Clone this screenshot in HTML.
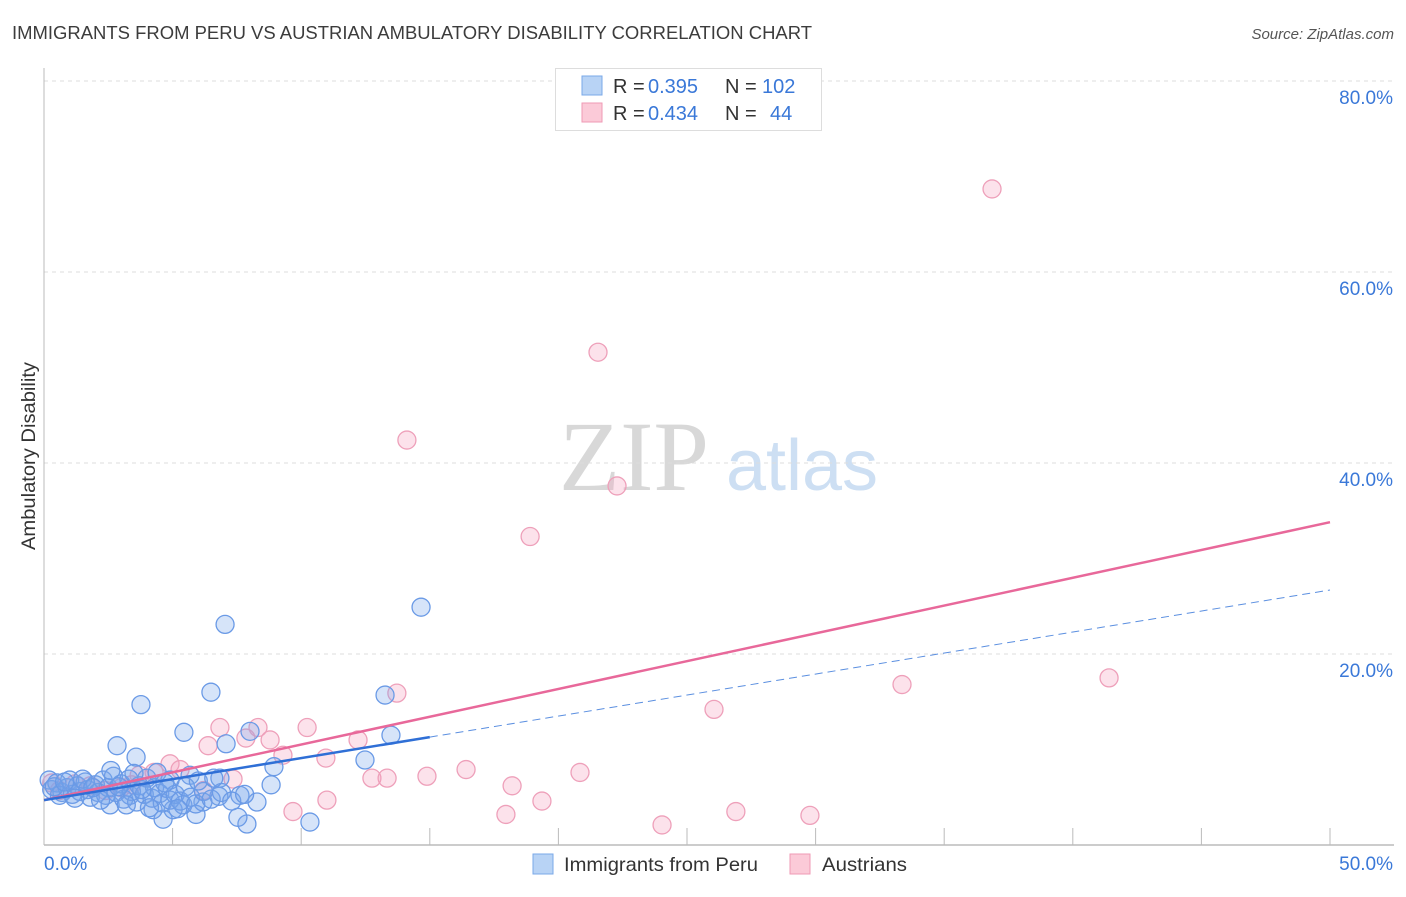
<!DOCTYPE html>
<html><head><meta charset="utf-8"><style>
body{margin:0;background:#fff;font-family:"Liberation Sans",sans-serif;}
</style></head><body>
<svg id="chart" width="1406" height="892" xmlns="http://www.w3.org/2000/svg" font-family="Liberation Sans, sans-serif">
<text x="12" y="39" font-size="18" fill="#3c3c3c" textLength="800" lengthAdjust="spacingAndGlyphs">IMMIGRANTS FROM PERU VS AUSTRIAN AMBULATORY DISABILITY CORRELATION CHART</text>
<text x="1394" y="39" font-size="15" fill="#555" font-style="italic" text-anchor="end">Source: ZipAtlas.com</text>
<text transform="translate(35,456) rotate(-90)" font-size="19" fill="#333" text-anchor="middle" textLength="188" lengthAdjust="spacingAndGlyphs">Ambulatory Disability</text>
<g>
<text x="634" y="490" font-size="100" fill="#d8d8d8" style="font-family:'Liberation Serif',serif" text-anchor="middle">ZIP</text>
<text x="802" y="490" font-size="72" fill="#cddff3" text-anchor="middle">atlas</text>
</g>
<g id="grid"></g><g id="axes"></g><g id="pts"></g><g id="lines"></g>
<g>
<rect x="555.5" y="68.5" width="266" height="62" fill="#fff" stroke="#ddd"/>
<rect x="582" y="76" width="20" height="19" fill="#b8d3f5" stroke="#7aa8e8"/>
<rect x="582" y="103" width="20" height="19" fill="#fbcad8" stroke="#ef9ab5"/>
<text x="613" y="93" font-size="20" fill="#333">R = </text><text x="648" y="93" font-size="20" fill="#3a78d8">0.395</text>
<text x="725" y="93" font-size="20" fill="#333">N = </text><text x="762" y="93" font-size="20" fill="#3a78d8">102</text>
<text x="613" y="120" font-size="20" fill="#333">R = </text><text x="648" y="120" font-size="20" fill="#3a78d8">0.434</text>
<text x="725" y="120" font-size="20" fill="#333">N = </text><text x="770" y="120" font-size="20" fill="#3a78d8">44</text>
</g>
<g>
<rect x="533" y="854" width="20" height="20" fill="#b8d3f5" stroke="#7aa8e8"/>
<text x="564" y="871" font-size="19.5" fill="#333" textLength="194" lengthAdjust="spacingAndGlyphs">Immigrants from Peru</text>
<rect x="790" y="854" width="20" height="20" fill="#fbcad8" stroke="#ef9ab5"/>
<text x="822" y="871" font-size="19.5" fill="#333" textLength="85" lengthAdjust="spacingAndGlyphs">Austrians</text>
</g>
</svg>
<script>
const xTicks=[0,5,10,15,20,25,30,35,40,45,50];
const yGrid=[20,40,60,80];
const yTickLabels=["20.0%","40.0%","60.0%","80.0%"];
const peruX=[7.04,14.66,6.49,3.77,13.26,5.44,13.49,2.84,7.08,8.01,3.58,12.48,8.94,10.34,7.89,4.63,7.54,5.91,8.83,8.28,6.80,6.18,5.02,5.40,4.24,2.57,3.34,4.90,5.68,6.84,7.62,
0.2,0.3,0.5,0.7,0.9,1.0,1.1,1.3,1.4,1.6,1.7,1.8,2.0,2.1,2.3,2.4,2.5,2.7,2.8,3.0,3.1,3.3,3.4,3.6,3.7,3.9,4.0,4.2,4.3,4.5,4.6,4.8,4.9,5.1,5.3,5.5,5.7,5.9,6.2,6.5,6.9,7.3,2.6,3.5,4.4,1.5,0.6,1.2,2.2,3.2,4.1,5.2,0.4,0.8,1.9,2.9,3.8,4.7,6.0,6.6,7.8];
const peruY=[23.1,24.9,16.0,14.7,15.7,11.8,11.5,10.4,10.6,11.9,9.2,8.9,8.2,2.4,2.2,2.7,2.9,3.2,6.3,4.5,5.1,4.5,3.7,4.2,3.7,4.2,5.2,6.8,7.3,7.0,5.2,
6.8,5.8,6.5,5.5,6.0,6.8,5.3,6.2,5.6,6.6,5.8,5.0,6.3,5.5,6.8,5.2,6.0,7.2,5.5,6.4,4.8,6.9,5.6,4.5,6.2,5.3,7.0,4.9,6.0,5.4,4.4,5.9,4.7,5.3,4.6,6.1,5.0,4.3,5.6,4.8,5.5,4.6,7.8,7.5,7.6,6.9,5.2,4.9,4.7,4.2,3.9,3.8,6.1,6.6,6.0,6.1,5.8,6.5,6.7,7.0,5.3];
const ausX=[36.86,21.54,14.11,22.28,18.90,13.72,33.36,41.41,26.05,6.84,8.32,10.23,6.38,8.79,7.85,12.21,9.29,10.96,4.90,5.29,4.28,7.35,12.75,13.34,14.89,16.41,20.84,18.20,19.36,11.00,9.68,17.96,26.90,29.78,24.03,0.3,1.8,3.0,3.7,6.2,0.6,2.4,3.4,1.2];
const ausY=[68.7,51.6,42.4,37.6,32.3,15.9,16.8,17.5,14.2,12.3,12.3,12.3,10.4,11.0,11.2,11.0,9.4,9.1,8.5,7.9,7.6,6.9,7.0,7.0,7.2,7.9,7.6,6.2,4.6,4.7,3.5,3.2,3.5,3.1,2.1,6.5,6.2,6.0,7.3,5.7,5.7,5.7,6.3,6.4];
const peruFit=[4.7,0.44];
const peruFitSolidEnd=15;
const ausFit=[4.7,0.582];
const NS="http://www.w3.org/2000/svg";
const X0=44,X1=1330,Y0=845,PPY=9.55;
const sx=v=>X0+(v/50)*(X1-X0);
const sy=v=>Y0-v*PPY;
function mk(tag,attrs,parent){const e=document.createElementNS(NS,tag);for(const k in attrs)e.setAttribute(k,attrs[k]);parent.appendChild(e);return e;}
const grid=document.getElementById('grid'),axes=document.getElementById('axes'),pts=document.getElementById('pts'),lines=document.getElementById('lines');
yGrid.forEach((v,i)=>{
 const l=mk('line',{x1:X0,x2:1394,y1:sy(v),y2:sy(v),stroke:'#ddd','stroke-dasharray':'4,4'},grid);
 
 
 const t=mk('text',{x:1393,y:sy(v)+23,'font-size':19,fill:'#3a78d8','text-anchor':'end'},grid);
 t.textContent=yTickLabels[i];
 
 
});
const ax=mk('line',{x1:X0,x2:X0,y1:68,y2:Y0,stroke:'#bbb'},axes);


const bx=mk('line',{x1:X0,x2:1394,y1:Y0,y2:Y0,stroke:'#bbb','stroke-width':1.5},axes);


xTicks.forEach(v=>{const t=mk('line',{x1:sx(v),x2:sx(v),y1:828,y2:Y0,stroke:'#bbb'},axes);
 
 });
const xl0=mk('text',{x:44,y:870,'font-size':19,fill:'#3a78d8'},axes);xl0.textContent=xTicks[0].toFixed(1)+'%';


const xl1=mk('text',{x:1393,y:870,'font-size':19,fill:'#3a78d8','text-anchor':'end'},axes);xl1.textContent=xTicks[xTicks.length-1].toFixed(1)+'%';


ausX.forEach((x,i)=>{const c=mk('circle',{cx:sx(x),cy:sy(ausY[i]),r:9,fill:'rgba(245,160,190,0.3)',stroke:'#eea0ba','stroke-width':1.3},pts);
 
 });
peruX.forEach((x,i)=>{const c=mk('circle',{cx:sx(x),cy:sy(peruY[i]),r:9,fill:'rgba(120,165,235,0.3)',stroke:'#6a9ae6','stroke-width':1.3},pts);
 
 });
const f=(p,x)=>p[0]+p[1]*x;
const la=mk('line',{x1:sx(0),y1:sy(f(ausFit,0)),x2:sx(50),y2:sy(f(ausFit,50)),stroke:'#e8689a','stroke-width':2.5},lines);


const lp=mk('line',{x1:sx(0),y1:sy(f(peruFit,0)),x2:sx(peruFitSolidEnd),y2:sy(f(peruFit,peruFitSolidEnd)),stroke:'#2f6fd6','stroke-width':2.5},lines);


const ld=mk('line',{x1:sx(peruFitSolidEnd),y1:sy(f(peruFit,peruFitSolidEnd)),x2:sx(50),y2:sy(f(peruFit,50)),stroke:'#5b8fe0','stroke-width':1,'stroke-dasharray':'8,5'},lines);


</script>
</body></html>
